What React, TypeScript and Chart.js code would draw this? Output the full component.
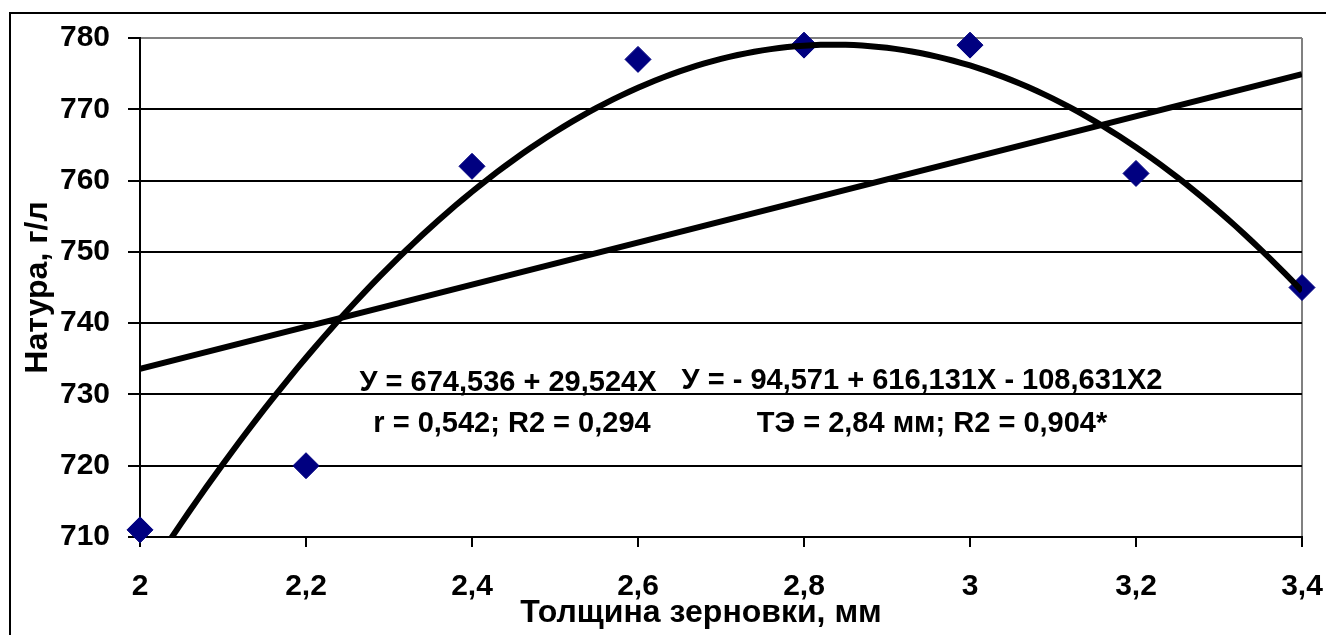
import { useEffect, useRef } from 'react';
import { Chart, registerables } from 'chart.js';

Chart.register(...registerables);

// Measured grain test weight against kernel thickness
const thickness = [2, 2.2, 2.4, 2.6, 2.8, 3, 3.2, 3.4];
const natura = [711, 720, 762, 777, 779, 779, 761, 745];

// Axis ticks
const xTicks = [2, 2.2, 2.4, 2.6, 2.8, 3, 3.2, 3.4];
const yTicks = [710, 720, 730, 740, 750, 760, 770, 780];

// Trend coefficients (constant term first)
const linearCoef = [674.536, 29.524];
const quadCoef = [-94.571, 616.131, -108.631];

// Text
const linearLabel = ['У = 674,536 + 29,524X', 'r = 0,542; R2 = 0,294'];
const quadLabel = ['У = - 94,571 + 616,131X - 108,631X2', 'ТЭ = 2,84 мм; R2 = 0,904*'];
const xTitle = 'Толщина зерновки, мм';
const yTitle = 'Натура, г/л';

const FONT_FAMILY = '"Liberation Sans", Arial, Helvetica, sans-serif';
const TITLE_FONT = `bold 32px ${FONT_FAMILY}`;
const NOTE_FONT = `bold 29px ${FONT_FAMILY}`;
const TICK_SIZE = 30;

const poly = (coef: number[], x: number) =>
  coef.reduce((s, c, i) => s + c * Math.pow(x, i), 0);

const xMin = xTicks[0];
const xMax = xTicks[xTicks.length - 1];

const linearPoints = [xMin, xMax].map((x) => ({ x, y: poly(linearCoef, x) }));
const quadPoints: { x: number; y: number }[] = [];
for (let i = 0; i <= 140; i++) {
  const x = +(xMin + i * 0.01).toFixed(2);
  quadPoints.push({ x, y: poly(quadCoef, x) });
}

const decorations = {
  id: 'decorations',
  beforeDraw(chart: any) {
    const { ctx } = chart;
    ctx.save();
    ctx.strokeStyle = '#000';
    ctx.lineWidth = 2;
    ctx.beginPath();
    ctx.moveTo(10, 636);
    ctx.lineTo(10, 13);
    ctx.lineTo(1330, 13);
    ctx.stroke();
    ctx.restore();
  },
  afterDraw(chart: any) {
    const { ctx, chartArea } = chart;
    ctx.save();
    ctx.fillStyle = '#000';
    ctx.textAlign = 'center';
    ctx.textBaseline = 'alphabetic';

    // equation captions
    ctx.font = NOTE_FONT;
    ctx.fillText(linearLabel[0], 508, 391);
    ctx.fillText(linearLabel[1], 512, 432);
    ctx.fillText(quadLabel[0], 922, 389);
    ctx.fillText(quadLabel[1], 932, 432);

    // axis titles
    ctx.font = TITLE_FONT;
    const cx = (chartArea.left + chartArea.right) / 2;
    ctx.fillText(xTitle, cx - 20, 622);
    ctx.translate(47, (chartArea.top + chartArea.bottom) / 2);
    ctx.rotate(-Math.PI / 2);
    ctx.fillText(yTitle, 0, 0);
    ctx.restore();
  },
};

export default function App() {
  const ref = useRef<HTMLCanvasElement | null>(null);

  useEffect(() => {
    if (!ref.current) return;
    const chart = new Chart(ref.current, {
      type: 'scatter',
      data: {
        datasets: [
          {
            label: 'quad',
            data: quadPoints,
            showLine: true,
            borderColor: '#000',
            borderWidth: 6,
            pointRadius: 0,
            clip: 0,
            order: 1,
          } as any,
          {
            label: 'linear',
            data: linearPoints,
            showLine: true,
            borderColor: '#000',
            borderWidth: 6,
            pointRadius: 0,
            clip: 0,
            order: 2,
          },
          {
            label: 'natura',
            data: thickness.map((x, i) => ({ x, y: natura[i] })),
            pointStyle: 'rectRot',
            pointRadius: 13,
            backgroundColor: '#000080',
            borderColor: '#000080',
            borderWidth: 1,
            clip: false as any,
            order: 3,
          },
        ],
      },
      options: {
        responsive: false,
        animation: false,
        devicePixelRatio: 1,
        layout: { padding: { left: 0, top: 38, right: 24, bottom: 0 } },
        plugins: {
          legend: { display: false },
          tooltip: { enabled: false },
        },
        scales: {
          x: {
            type: 'linear',
            min: xMin,
            max: xMax,
            afterBuildTicks: (s: any) => {
              s.ticks = xTicks.map((value) => ({ value }));
            },
            afterFit: (s: any) => {
              s.height = 98;
              s.paddingLeft = 0;
              s.paddingRight = 0;
            },
            ticks: {
              color: '#000',
              font: { family: FONT_FAMILY, size: TICK_SIZE, weight: 'bold' },
              padding: 22,
              maxRotation: 0,
              autoSkip: false,
              callback: (v: any) => String(v).replace('.', ','),
            },
            grid: {
              color: (c: any) =>
                c.tick && Math.abs(c.tick.value - xMax) < 1e-6 ? '#808080' : 'rgba(0,0,0,0)',
              lineWidth: 2,
              tickColor: '#000',
              tickLength: 10,
              tickWidth: 2,
            },
            border: { color: '#000', width: 2 },
          },
          y: {
            type: 'linear',
            min: yTicks[0],
            max: yTicks[yTicks.length - 1],
            afterBuildTicks: (s: any) => {
              s.ticks = yTicks.map((value) => ({ value }));
            },
            afterFit: (s: any) => {
              s.width = 140;
              s.paddingTop = 0;
              s.paddingBottom = 0;
            },
            ticks: {
              color: '#000',
              font: { family: FONT_FAMILY, size: TICK_SIZE, weight: 'bold' },
              padding: 18,
              autoSkip: false,
            },
            grid: {
              color: (c: any) => (c.tick && c.tick.value === yTicks[yTicks.length - 1] ? '#808080' : '#000'),
              lineWidth: 2,
              tickColor: '#000',
              tickLength: 12,
              tickWidth: 2,
            },
            border: { color: '#000', width: 2 },
          },
        },
      },
      plugins: [decorations],
    });
    return () => chart.destroy();
  }, []);

  return (
    <div style={{ position: 'fixed', left: 0, top: 0, width: 1326, height: 635, background: '#fff' }}>
      <canvas ref={ref} width={1326} height={635} />
    </div>
  );
}
